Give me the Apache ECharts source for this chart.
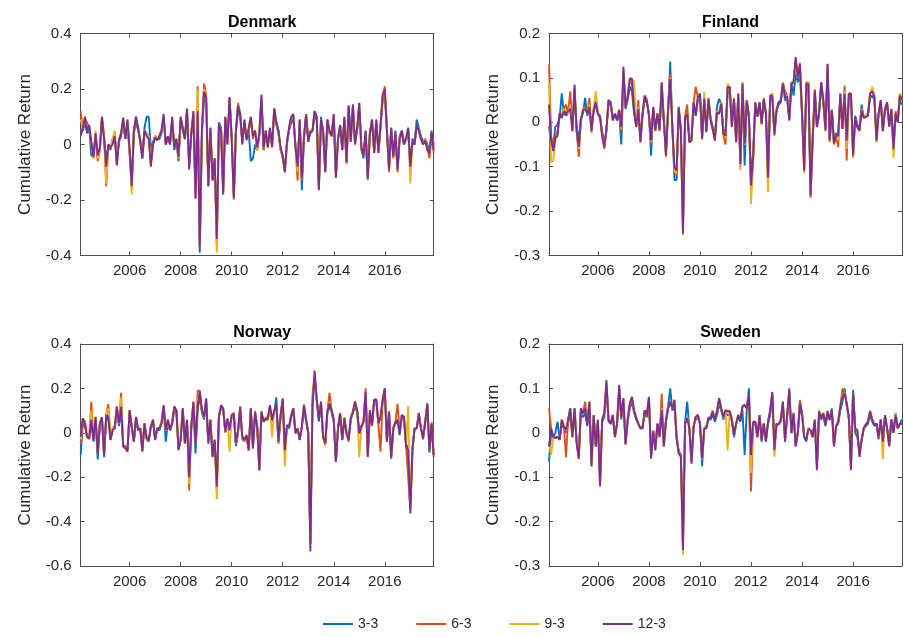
<!DOCTYPE html>
<html><head><meta charset="utf-8">
<script src="https://cdn.jsdelivr.net/npm/echarts@6/dist/echarts.min.js"></script>
<style>html,body{margin:0;padding:0;background:#fff}#c{width:904px;height:637px}</style>
</head><body><div id="c"></div>
<script>
const COUNTRIES = ['Denmark','Finland','Norway','Sweden'];
const SERIES_NAMES = ['3-3','6-3','9-3','12-3'];
const X_TICKS = [2006,2008,2010,2012,2014,2016];
const START_YEAR = 2004, START_MONTH = 2, N_MONTHS = 167;

const D3 = [0.05,0.05,0.08,0.04,0.06,-0.04,-0.04,0.03,-0.05,-0.02,
0.09,0.02,-0.06,0.0,-0.02,0.02,0.03,-0.06,0.01,0.03,
0.08,0.02,0.07,-0.02,-0.13,0.04,0.08,0.05,0.02,-0.04,
0.06,0.1,0.1,-0.02,0.01,0.03,0.02,0.02,0.04,0.09,
0.0,0.02,0.01,0.09,-0.02,0.01,-0.06,0.09,0.05,0.02,
0.12,-0.07,0.04,0.1,-0.17,0.13,-0.39,0.04,0.17,0.15,
-0.13,0.05,-0.12,-0.06,-0.33,0.08,0.06,-0.16,0.09,0.01,
0.16,0.03,-0.18,0.05,0.12,0.1,0.01,0.08,0.02,0.05,
-0.06,-0.05,0.0,-0.02,0.03,0.16,-0.02,0.04,0.0,0.05,
0.0,0.12,0.07,0.04,-0.02,-0.05,-0.09,0.0,0.05,0.08,
0.09,0.0,-0.07,0.08,-0.165,0.02,0.1,0.02,0.04,0.05,
0.1,0.09,-0.15,0.1,0.04,-0.09,0.08,0.04,0.04,0.1,
-0.1,0.02,0.06,-0.01,0.09,-0.06,0.14,0.02,0.13,0.01,
0.05,0.13,-0.02,-0.05,0.04,-0.11,0.05,0.08,-0.02,0.08,
-0.02,0.06,0.16,0.18,0.05,-0.08,0.05,-0.04,0.05,-0.08,
0.03,0.05,0.01,0.02,0.05,-0.07,0.02,0.01,0.09,0.06,
0.03,0.01,0.02,0.0,-0.02,0.04,0.0];
const D6 = [0.12,0.05,0.09,0.08,0.06,0.0,-0.05,0.04,-0.06,-0.02,
0.1,0.03,-0.15,0.0,-0.01,0.01,0.04,-0.07,0.02,0.04,
0.09,0.02,0.08,-0.03,-0.16,0.05,0.09,0.06,0.01,-0.05,
0.05,0.04,0.03,-0.07,0.0,0.03,0.02,0.03,0.05,0.1,
0.0,0.03,0.0,0.09,-0.01,0.02,-0.05,0.09,0.06,0.02,
0.12,-0.08,0.04,0.11,-0.19,0.21,-0.37,0.06,0.22,0.18,
-0.15,0.06,-0.13,-0.05,-0.36,0.07,0.05,-0.17,0.1,0.0,
0.17,0.02,-0.19,0.05,0.15,0.11,0.01,0.08,0.02,0.05,
0.09,0.02,0.05,-0.02,0.04,0.17,-0.02,0.05,-0.01,0.06,
-0.01,0.13,0.08,0.05,-0.02,-0.04,-0.1,0.01,0.06,0.1,
0.1,-0.01,-0.13,0.09,-0.13,0.03,0.11,0.01,0.05,0.05,
0.12,0.1,-0.16,0.09,0.05,-0.1,0.09,0.04,0.03,0.1,
-0.12,0.02,0.07,-0.02,0.09,-0.07,0.13,0.01,0.14,0.0,
0.06,0.14,-0.01,-0.03,0.04,-0.12,0.04,0.09,-0.03,0.08,
-0.03,0.07,0.17,0.21,0.05,-0.1,0.06,-0.05,0.04,-0.1,
0.02,0.04,0.0,0.02,0.06,-0.09,0.01,0.0,0.07,0.05,
0.02,0.0,0.02,-0.01,-0.05,0.03,-0.03];
const D9 = [0.09,0.06,0.1,0.06,0.07,0.01,-0.05,0.05,-0.05,-0.02,
0.1,0.03,-0.14,0.0,-0.01,0.02,0.05,-0.07,0.02,0.04,
0.1,0.02,0.09,-0.03,-0.18,0.05,0.1,0.06,0.01,-0.05,
0.05,0.04,0.03,-0.07,0.0,0.03,0.02,0.03,0.05,0.1,
0.0,0.03,0.0,0.1,-0.01,0.02,-0.05,0.1,0.06,0.02,
0.12,-0.08,0.04,0.12,-0.19,0.2,-0.37,0.05,0.2,0.17,
-0.14,0.06,-0.13,-0.05,-0.39,0.07,0.05,-0.18,0.1,0.0,
0.16,0.02,-0.2,0.05,0.14,0.12,0.0,0.09,0.02,0.06,
0.1,0.03,0.05,-0.02,0.04,0.17,-0.01,0.05,-0.01,0.06,
-0.01,0.13,0.08,0.05,-0.02,-0.04,-0.1,0.01,0.06,0.1,
0.11,-0.01,-0.1,0.09,-0.12,0.03,0.11,0.01,0.05,0.05,
0.12,0.1,-0.16,0.09,0.05,-0.1,0.09,0.05,0.03,0.11,
-0.12,0.02,0.07,-0.02,0.1,-0.07,0.13,0.01,0.14,0.0,
0.06,0.15,-0.01,-0.04,0.05,-0.13,0.04,0.09,-0.03,0.09,
-0.03,0.07,0.18,0.2,0.05,-0.09,0.06,-0.05,0.04,-0.09,
0.02,0.05,0.0,0.02,0.06,-0.14,0.01,0.0,0.07,0.05,
0.02,0.0,0.02,-0.02,-0.03,0.04,-0.01];
const D12 = [0.03,0.06,0.1,0.05,0.07,0.01,-0.045,0.04,-0.04,-0.01,
0.1,0.02,-0.08,0.0,-0.01,0.0,0.03,-0.075,0.015,0.04,
0.095,0.02,0.09,-0.02,-0.15,0.05,0.1,0.06,0.01,-0.05,
0.05,0.03,0.02,-0.08,0.0,0.025,0.015,0.03,0.05,0.11,
0.0,0.03,0.0,0.1,-0.01,0.02,-0.045,0.1,0.06,0.02,
0.13,-0.09,0.04,0.12,-0.195,0.12,-0.37,0.05,0.19,0.17,
-0.15,0.06,-0.13,-0.05,-0.34,0.07,0.05,-0.18,0.1,0.0,
0.17,0.02,-0.195,0.05,0.14,0.11,0.0,0.09,0.015,0.06,
0.1,0.03,0.05,-0.01,0.04,0.18,-0.01,0.05,-0.01,0.06,
-0.01,0.13,0.08,0.05,-0.01,-0.04,-0.1,0.01,0.06,0.1,
0.11,-0.01,-0.08,0.09,-0.12,0.03,0.11,0.01,0.045,0.05,
0.12,0.1,-0.165,0.09,0.05,-0.1,0.09,0.05,0.03,0.11,
-0.12,0.02,0.07,-0.02,0.1,-0.065,0.14,0.01,0.145,0.0,
0.06,0.15,-0.01,-0.04,0.05,-0.125,0.04,0.09,-0.03,0.09,
-0.03,0.07,0.18,0.2,0.05,-0.09,0.06,-0.045,0.04,-0.09,
0.02,0.05,0.0,0.02,0.06,-0.08,0.01,0.0,0.07,0.05,
0.02,0.0,0.015,-0.02,-0.03,0.05,-0.02];

const F3 = [-0.01,-0.05,-0.05,-0.01,-0.005,0.01,0.065,0.02,0.015,0.02,
0.05,-0.01,0.06,-0.01,-0.04,0.01,0.02,0.055,0.015,0.03,
-0.01,0.025,0.04,0.02,0.01,-0.02,-0.05,-0.015,0.045,0.04,
0.01,0.02,0.005,0.02,-0.05,0.1,0.03,0.05,0.08,0.07,
0.02,-0.005,0.025,-0.035,0.02,0.05,0.045,0.02,-0.075,0.03,
-0.015,0.02,-0.01,0.07,0.005,-0.06,0.03,0.137,-0.01,-0.13,
-0.13,0.03,-0.015,-0.22,0.01,0.02,-0.035,-0.035,0.04,0.015,
0.05,0.055,-0.03,0.045,-0.015,0.045,0.01,-0.01,-0.03,0.035,
0.053,0.04,-0.02,-0.02,0.065,0.07,-0.005,0.045,-0.035,0.055,
-0.08,0.075,-0.097,0.04,0.015,-0.12,-0.07,0.04,0.015,0.04,
0.0,0.045,0.02,-0.1,0.05,0.055,-0.02,0.025,0.04,0.045,
0.087,0.05,0.05,0.01,0.09,0.06,0.11,0.09,0.11,0.02,
-0.09,0.075,0.075,-0.14,-0.03,0.06,-0.01,0.02,0.08,0.045,
-0.015,0.11,-0.035,0.03,-0.04,-0.025,-0.025,0.055,-0.01,0.055,
-0.035,0.055,0.055,-0.06,0.015,-0.005,-0.015,0.04,0.01,0.015,
0.015,0.055,0.06,0.05,-0.03,0.02,0.045,-0.015,0.025,0.04,
-0.005,0.025,-0.05,0.02,0.005,0.05,0.04];
const F6 = [0.13,-0.03,-0.06,-0.03,-0.02,0.02,0.015,0.03,0.04,0.02,
0.07,-0.015,0.075,-0.02,-0.078,0.005,0.03,0.035,0.02,0.055,
-0.02,0.03,0.05,0.02,0.015,-0.03,-0.06,-0.02,0.05,0.045,
0.005,0.02,0.005,0.03,-0.02,0.11,0.035,0.06,0.09,0.09,
0.03,-0.01,0.05,-0.045,0.02,0.06,0.05,0.015,-0.05,0.035,
-0.02,0.02,-0.02,0.085,0.005,-0.075,0.03,0.11,-0.01,-0.11,
-0.12,0.035,-0.02,-0.24,0.015,0.04,-0.045,-0.04,0.045,0.08,
0.055,0.065,-0.035,0.055,-0.02,0.055,0.005,-0.015,-0.04,0.025,
0.02,0.045,-0.03,-0.05,0.08,0.08,-0.01,0.055,-0.045,0.065,
-0.1,0.09,-0.05,0.05,0.015,-0.15,-0.08,0.045,0.015,0.045,
-0.005,0.055,0.02,-0.14,0.06,0.065,-0.03,0.03,0.045,0.05,
0.09,0.07,0.06,0.005,0.09,0.09,0.14,0.1,0.13,0.02,
-0.11,0.09,0.09,-0.17,-0.04,0.075,-0.01,0.02,0.09,0.05,
-0.02,0.13,-0.045,0.03,-0.05,-0.03,-0.056,0.065,-0.015,0.083,
-0.086,0.065,0.065,-0.08,0.01,-0.01,-0.02,0.03,0.01,0.015,
0.02,0.065,0.075,0.06,-0.045,0.02,0.05,-0.02,0.03,0.045,
-0.01,0.03,-0.065,0.025,0.0,0.065,0.05];
const F9 = [0.09,-0.09,-0.085,-0.04,-0.03,0.015,0.01,0.03,0.025,0.02,
0.04,-0.02,0.08,-0.02,-0.06,0.005,0.03,0.03,0.02,0.04,
-0.025,0.03,0.07,0.02,0.01,-0.03,-0.055,-0.02,0.05,0.045,
0.005,0.02,0.005,0.03,-0.015,0.12,0.035,0.06,0.1,0.095,
0.094,-0.01,0.035,-0.045,0.02,0.06,0.05,0.015,-0.045,0.035,
-0.02,0.02,-0.02,0.09,0.005,-0.08,0.03,0.1,-0.01,-0.11,
-0.115,0.035,-0.02,-0.255,0.015,0.02,-0.045,-0.04,0.045,0.02,
0.06,0.065,-0.04,0.068,-0.02,0.055,0.005,-0.015,-0.04,0.025,
0.02,0.045,-0.025,-0.035,0.087,0.08,-0.01,0.055,-0.045,0.065,
-0.108,0.09,-0.05,0.05,0.015,-0.184,-0.09,0.045,0.015,0.045,
-0.005,0.055,0.02,-0.157,0.06,0.065,-0.025,0.03,0.045,0.05,
0.09,0.06,0.06,0.005,0.09,0.09,0.14,0.1,0.135,0.02,
-0.115,0.09,0.09,-0.16,-0.045,0.075,-0.01,0.02,0.09,0.05,
-0.02,0.125,-0.045,0.03,-0.05,-0.03,-0.04,0.065,-0.015,0.07,
-0.06,0.065,0.065,-0.08,0.01,-0.01,-0.02,0.03,0.01,0.015,
0.015,0.065,0.08,0.06,-0.045,0.02,0.05,-0.02,0.03,0.045,
-0.01,0.03,-0.08,0.02,0.0,0.065,0.05];
const F12 = [0.04,-0.04,-0.065,-0.035,-0.03,0.02,0.01,0.025,0.02,0.025,
0.03,-0.02,0.085,-0.02,-0.055,0.005,0.027,0.03,0.02,0.035,
-0.02,0.027,0.045,0.019,0.012,-0.03,-0.055,-0.018,0.05,0.045,
0.004,0.019,0.004,0.027,-0.011,0.125,0.034,0.057,0.098,0.098,
0.027,-0.011,0.03,-0.045,0.019,0.06,0.049,0.015,-0.041,0.034,
-0.018,0.019,-0.018,0.09,0.004,-0.075,0.027,0.098,-0.011,-0.101,
-0.109,0.034,-0.018,-0.251,0.012,0.019,-0.045,-0.041,0.045,0.015,
0.057,0.064,-0.037,0.053,-0.022,0.053,0.004,-0.015,-0.041,0.022,
0.019,0.042,-0.026,-0.03,0.079,0.079,-0.011,0.053,-0.045,0.064,
-0.094,0.087,-0.048,0.049,0.015,-0.142,-0.08,0.045,0.012,0.045,
-0.003,0.053,0.019,-0.124,0.06,0.06,-0.026,0.027,0.045,0.049,
0.087,0.057,0.057,0.004,0.087,0.09,0.147,0.101,0.132,0.019,
-0.109,0.087,0.087,-0.165,-0.041,0.072,-0.011,0.019,0.09,0.049,
-0.018,0.132,-0.041,0.027,-0.048,-0.03,-0.03,0.064,-0.015,0.064,
-0.041,0.064,0.064,-0.075,0.012,-0.011,-0.018,0.027,0.01,0.012,
0.015,0.064,0.07,0.057,-0.041,0.02,0.05,-0.02,0.03,0.045,
-0.01,0.03,-0.06,0.02,0.0,0.06,0.05];

const N3 = [-0.1,0.04,0.03,-0.02,-0.03,0.05,-0.04,0.06,-0.12,0.03,
0.06,-0.11,0.07,0.06,-0.03,0.01,0.02,0.1,0.03,0.1,
-0.06,-0.06,-0.08,0.09,0.02,-0.04,0.06,0.01,0.02,-0.07,
0.04,-0.03,-0.04,0.03,0.05,-0.03,0.02,0.01,0.04,0.11,
-0.04,0.05,0.01,0.04,0.1,0.09,-0.07,-0.03,0.1,-0.05,
0.05,-0.18,0.02,0.12,-0.093,0.1,0.17,0.09,0.06,0.14,
-0.05,0.04,-0.1,-0.04,-0.22,0.08,0.11,0.1,0.01,0.05,
0.02,0.07,0.08,-0.06,0.0,0.1,-0.03,-0.04,-0.02,-0.07,
0.1,-0.06,0.08,0.03,-0.15,0.09,0.05,0.06,0.06,0.11,
0.06,0.09,0.16,-0.05,0.07,0.14,-0.07,0.03,0.02,0.07,
0.1,0.0,0.02,-0.03,0.03,0.11,0.05,0.0,-0.5,0.12,
0.25,0.14,0.05,0.13,-0.02,-0.05,0.09,0.12,0.09,0.05,
-0.13,0.02,0.08,-0.03,0.06,0.0,-0.03,0.06,0.09,0.12,
0.09,0.0,0.03,0.05,0.17,-0.1,0.09,0.04,0.14,0.14,
0.04,0.07,0.14,0.18,-0.04,0.09,-0.1,0.02,0.04,0.05,
-0.01,0.07,0.07,-0.05,-0.07,-0.32,-0.07,0.02,0.02,0.08,
0.02,-0.02,0.04,0.12,-0.09,0.04,-0.1];
const N6 = [-0.05,0.06,0.05,-0.02,-0.02,0.14,-0.03,0.07,-0.09,0.04,
0.07,-0.09,0.08,0.13,-0.03,0.02,0.03,0.12,0.04,0.18,
-0.06,-0.06,-0.08,0.1,0.03,-0.04,0.07,0.02,0.02,-0.08,
0.04,-0.02,-0.03,0.03,0.06,-0.03,0.02,0.02,0.05,0.12,
0.01,0.06,0.01,0.05,0.12,0.1,-0.07,-0.03,0.11,-0.05,
0.06,-0.26,0.03,0.14,-0.05,0.19,0.19,0.1,0.07,0.15,
-0.04,0.06,-0.11,-0.03,-0.26,0.07,0.12,0.11,0.0,0.06,
0.01,0.08,0.09,-0.05,0.01,0.11,-0.02,-0.03,-0.01,-0.08,
0.11,-0.07,0.09,0.03,-0.17,0.09,0.05,0.06,0.07,0.12,
0.05,0.1,0.12,-0.04,0.08,0.15,-0.09,0.03,0.03,0.08,
0.11,0.0,0.02,-0.03,0.03,0.12,0.06,0.0,-0.5,0.15,
0.26,0.15,0.06,0.14,-0.02,-0.05,0.1,0.18,0.1,0.06,
-0.13,0.02,0.09,-0.03,0.07,0.0,-0.04,0.07,0.09,0.14,
0.1,0.0,0.03,0.05,0.2,-0.11,0.1,0.03,0.15,0.15,
0.04,-0.085,0.15,0.2,-0.04,0.09,-0.11,0.02,0.05,0.13,
0.0,0.08,0.07,-0.06,-0.2,-0.35,-0.08,0.02,0.02,0.09,
0.02,-0.03,0.05,0.13,-0.08,0.04,-0.1];
const N9 = [-0.03,0.065,0.05,-0.02,-0.03,0.1,-0.03,0.07,-0.09,0.04,
0.07,-0.1,0.08,0.11,-0.03,0.02,0.02,0.12,0.04,0.16,
-0.06,-0.07,-0.08,0.1,0.03,-0.04,0.07,0.01,0.02,-0.08,
0.04,-0.03,-0.03,0.03,0.06,-0.03,0.02,0.02,0.05,0.12,
0.01,0.06,0.01,0.04,0.11,0.1,-0.08,-0.03,0.11,-0.05,
0.06,-0.23,0.03,0.14,-0.05,0.15,0.18,0.1,0.07,0.15,
-0.04,0.06,-0.11,-0.04,-0.3,0.07,0.12,0.11,0.0,0.06,
-0.085,0.08,0.09,-0.05,0.01,0.12,-0.02,-0.04,-0.01,-0.08,
0.11,-0.07,0.1,0.03,-0.17,0.1,0.05,0.07,0.07,0.12,
-0.02,0.1,0.12,-0.05,0.08,0.15,-0.15,0.03,0.03,0.08,
0.11,0.0,0.02,-0.03,0.03,0.13,0.06,0.0,-0.5,0.18,
0.26,0.15,0.06,0.14,-0.02,-0.06,0.1,0.14,0.1,0.06,
-0.12,0.02,0.09,-0.03,0.06,0.0,-0.03,0.07,0.1,0.14,
0.1,-0.11,0.02,0.05,0.18,-0.1,0.1,0.04,0.15,0.15,
0.04,0.07,0.15,0.2,-0.04,0.1,-0.12,0.02,0.05,0.06,
0.0,0.08,0.07,-0.06,0.12,-0.34,-0.08,0.02,0.02,0.09,
0.02,-0.02,0.05,0.13,-0.07,0.05,-0.1];
const N12 = [-0.018,0.065,0.043,-0.018,-0.025,0.058,-0.033,0.072,-0.093,0.043,
0.07,-0.1,0.08,0.072,-0.033,0.012,0.02,0.117,0.043,0.117,
-0.063,-0.07,-0.085,0.102,0.027,-0.04,0.072,0.012,0.02,-0.085,
0.043,-0.025,-0.033,0.027,0.058,-0.033,0.02,0.02,0.043,0.125,
0.012,0.058,0.012,0.043,0.117,0.102,-0.078,-0.033,0.11,-0.048,
0.058,-0.2,0.027,0.14,-0.05,0.117,0.185,0.102,0.072,0.155,
-0.04,0.058,-0.108,-0.033,-0.243,0.072,0.125,0.11,0.005,0.065,
0.012,0.08,0.087,-0.048,0.012,0.117,-0.018,-0.033,-0.01,-0.078,
0.11,-0.07,0.095,0.027,-0.168,0.095,0.05,0.065,0.065,0.125,
0.058,0.102,0.125,-0.04,0.08,0.155,-0.078,0.035,0.027,0.08,
0.11,-0.003,0.02,-0.033,0.027,0.125,0.058,0.0,-0.535,0.13,
0.28,0.15,0.058,0.14,-0.018,-0.048,0.095,0.133,0.102,0.058,
-0.13,0.02,0.087,-0.033,0.065,-0.003,-0.033,0.065,0.095,0.14,
0.102,-0.003,0.027,0.05,0.185,-0.108,0.102,0.035,0.148,0.15,
0.043,0.072,0.148,0.2,-0.04,0.095,-0.115,0.02,0.05,0.058,
-0.003,0.08,0.072,-0.063,-0.078,-0.363,-0.078,0.02,0.02,0.087,
0.02,-0.025,0.05,0.133,-0.078,0.043,-0.108];

const S3 = [-0.065,0.0,-0.01,0.0,0.025,-0.015,0.02,0.01,0.0,0.02,
0.045,-0.01,0.045,-0.02,-0.045,0.045,0.035,0.045,0.015,0.055,
-0.06,0.035,-0.025,0.025,-0.1,0.025,0.035,0.1,0.025,0.02,
0.035,-0.005,0.02,0.09,0.03,0.065,-0.02,0.025,0.055,0.07,
0.045,0.03,0.02,0.01,0.015,0.045,0.035,0.07,-0.045,0.005,
-0.03,0.02,-0.005,0.045,-0.02,0.03,0.06,0.1,0.05,0.065,
-0.01,-0.04,-0.05,-0.22,0.025,0.07,0.01,-0.055,0.015,0.03,
0.035,0.02,-0.076,0.01,0.015,0.03,0.03,0.04,0.025,0.04,
0.065,0.05,0.03,0.045,0.04,0.04,0.025,-0.01,0.02,0.035,
0.025,0.05,-0.05,0.05,0.1,-0.04,0.02,0.02,-0.01,0.035,
-0.02,0.02,-0.015,0.02,0.04,0.08,-0.03,0.02,0.02,0.025,
0.06,-0.015,0.035,0.085,0.0,0.04,-0.025,0.0,0.055,0.04,
-0.01,-0.02,0.01,0.005,-0.01,0.025,-0.07,0.045,0.03,0.04,
0.015,0.04,0.03,0.055,-0.025,0.015,0.02,0.05,0.07,0.1,
0.06,0.03,-0.07,0.097,0.0,-0.01,-0.04,-0.02,0.01,0.015,
0.02,0.04,0.025,0.015,0.02,-0.015,0.025,-0.02,0.035,0.01,
-0.025,0.03,0.005,0.045,0.01,0.02,0.03];
const S6 = [0.055,0.01,-0.01,-0.01,-0.01,-0.015,0.03,0.015,-0.055,0.03,
0.055,-0.01,0.055,-0.02,-0.055,0.055,0.045,0.07,0.02,0.07,
-0.07,0.04,-0.03,0.03,-0.115,0.03,0.045,0.11,0.03,0.02,
0.04,-0.01,0.02,0.1,0.035,0.075,-0.025,0.03,0.065,0.08,
0.05,0.035,0.02,0.01,0.01,0.05,0.04,0.08,-0.055,0.005,
-0.035,0.02,-0.01,0.088,-0.03,0.025,0.055,0.07,0.055,0.07,
-0.01,-0.045,-0.05,-0.26,0.02,0.035,0.01,-0.065,0.015,0.035,
0.04,0.02,-0.055,0.01,0.01,0.035,0.035,0.05,0.03,0.05,
0.075,0.055,0.035,0.05,0.05,0.05,0.03,-0.005,0.02,0.04,
0.03,0.06,0.06,0.055,0.085,-0.132,0.02,0.025,-0.01,0.04,
-0.015,0.02,-0.02,0.025,0.05,0.09,-0.035,0.02,0.02,0.03,
0.07,-0.02,0.04,0.095,0.0,0.045,-0.03,0.0,0.074,0.045,
-0.01,-0.015,0.01,0.005,-0.01,0.03,-0.08,0.05,0.035,0.045,
0.02,0.05,0.03,0.05,-0.03,0.015,0.025,0.06,0.1,0.09,
0.065,0.035,-0.08,0.09,0.01,0.005,-0.05,-0.015,0.01,0.02,
0.025,0.05,0.03,0.02,0.02,-0.01,0.03,-0.02,0.04,0.01,
-0.03,0.03,0.0,0.04,0.01,0.02,0.02];
const S9 = [-0.02,-0.05,-0.01,-0.01,-0.01,-0.015,0.03,0.015,0.005,0.03,
0.055,-0.01,0.055,-0.02,-0.06,0.055,0.045,0.055,0.02,0.07,
-0.075,0.04,-0.03,0.03,-0.12,0.03,0.045,0.115,0.03,0.02,
0.04,-0.01,0.02,0.105,0.035,0.075,-0.025,0.03,0.065,0.08,
0.05,0.035,0.02,0.01,0.01,0.05,0.04,0.08,-0.055,0.005,
-0.04,0.02,-0.01,0.055,-0.03,0.025,0.055,0.07,0.055,0.075,
-0.01,-0.045,-0.055,-0.275,0.02,0.035,0.01,-0.07,0.015,0.035,
0.04,0.02,-0.06,0.01,0.01,0.035,0.035,0.05,0.03,0.05,
0.075,0.055,0.035,0.05,-0.04,0.05,0.03,-0.005,0.02,0.04,
0.03,0.06,0.06,0.055,0.085,-0.09,0.02,0.025,-0.01,0.04,
-0.015,0.02,-0.02,0.025,0.05,0.09,-0.054,0.02,0.02,0.03,
0.07,-0.02,0.04,0.095,0.0,0.045,-0.03,0.0,0.065,0.045,
-0.01,-0.015,0.01,0.005,-0.01,0.03,-0.08,0.05,0.035,0.045,
0.02,0.05,0.03,0.05,-0.03,0.015,0.025,0.06,0.085,0.09,
0.065,0.035,-0.08,0.09,0.01,0.005,-0.055,-0.015,0.01,0.02,
0.025,0.05,0.03,0.02,0.02,-0.01,0.03,-0.06,0.04,0.01,
-0.03,0.03,0.0,0.045,0.01,0.02,0.02];
const S12 = [-0.031,0.01,-0.009,-0.012,-0.009,-0.016,0.029,0.014,0.006,0.029,
0.055,-0.009,0.055,-0.024,-0.058,0.055,0.044,0.055,0.018,0.07,
-0.076,0.04,-0.031,0.029,-0.121,0.029,0.044,0.119,0.029,0.021,
0.04,-0.009,0.021,0.108,0.036,0.078,-0.027,0.029,0.066,0.081,
0.051,0.033,0.021,0.01,0.01,0.051,0.04,0.081,-0.058,0.003,
-0.039,0.021,-0.009,0.051,-0.031,0.025,0.055,0.07,0.055,0.074,
-0.012,-0.046,-0.054,-0.264,0.021,0.033,0.01,-0.069,0.014,0.036,
0.04,0.021,-0.058,0.01,0.01,0.033,0.033,0.048,0.029,0.048,
0.078,0.055,0.036,0.051,0.048,0.048,0.029,-0.005,0.021,0.04,
0.029,0.059,0.063,0.055,0.085,-0.05,0.025,0.025,-0.009,0.04,
-0.016,0.021,-0.02,0.025,0.05,0.092,-0.039,0.021,0.018,0.029,
0.07,-0.02,0.04,0.1,-0.001,0.044,-0.031,-0.001,0.066,0.044,
-0.009,-0.016,0.01,0.006,-0.009,0.029,-0.084,0.048,0.033,0.044,
0.018,0.048,0.029,0.051,-0.031,0.014,0.025,0.059,0.081,0.089,
0.066,0.036,-0.084,0.089,0.01,0.006,-0.054,-0.016,0.01,0.018,
0.025,0.048,0.029,0.018,0.021,-0.01,0.03,-0.02,0.04,0.01,
-0.03,0.03,0.0,0.04,0.01,0.02,0.02];

const DATA = [[D3,D6,D9,D12],[F3,F6,F9,F12],[N3,N6,N9,N12],[S3,S6,S9,S12]];
const Y_MIN = [-0.4,-0.3,-0.6,-0.3];
const Y_MAX = [0.4,0.2,0.4,0.2];
const Y_STEP = [0.2,0.1,0.2,0.1];

// Layout (pixels)
const COLORS = ['#0072BD','#D95319','#EDB120','#7E2F8E'];
const GRIDS = [{left:80.7,top:33.5},{left:549,top:33.5},{left:80.7,top:344},{left:549,top:344}];
const GW = 353, GH = 222;
const FONT = 'Liberation Sans, Arial, Helvetica, sans-serif';
const AX = '#4d4d4d', TXT = '#262626';

const XS = [];
for (let i = 0; i < N_MONTHS; i++) XS.push(START_YEAR + (START_MONTH - 1 + i) / 12);

const chart = echarts.init(document.getElementById('c'), null, {renderer:'canvas'});
const grid = [], xAxis = [], yAxis = [], series = [], title = [];
GRIDS.forEach((g, k) => {
  grid.push({left:g.left, top:g.top, width:GW, height:GH, containLabel:false});
  title.push({text:COUNTRIES[k], left:g.left + GW/2, top:g.top - 24, textAlign:'center',
    textStyle:{fontFamily:FONT, fontWeight:'bold', fontSize:16, color:'#000'}});
  const xb = {gridIndex:k, type:'value', min:XS[0], max:XS[XS.length-1],
    axisLine:{show:true, onZero:false, lineStyle:{color:AX, width:1}},
    axisTick:{show:true, inside:true, length:4, customValues:X_TICKS, lineStyle:{color:AX}},
    splitLine:{show:false}};
  xAxis.push(Object.assign({}, xb, {position:'bottom',
    axisLabel:{show:true, customValues:X_TICKS, formatter:v => String(Math.round(v)), fontFamily:FONT, fontSize:15, color:TXT, margin:8}}));
  xAxis.push(Object.assign({}, xb, {position:'top', axisLabel:{show:false}}));
  const yb = {gridIndex:k, type:'value', min:Y_MIN[k], max:Y_MAX[k], interval:Y_STEP[k],
    axisLine:{show:true, onZero:false, lineStyle:{color:AX, width:1}},
    axisTick:{show:true, inside:true, length:4, lineStyle:{color:AX}},
    splitLine:{show:false}};
  yAxis.push(Object.assign({}, yb, {position:'left',
    name:'Cumulative Return', nameLocation:'middle', nameRotate:90, nameGap:47,
    nameTextStyle:{fontFamily:FONT, fontSize:17, color:TXT},
    axisLabel:{show:true, formatter:v => String(parseFloat(v.toFixed(2))), fontFamily:FONT, fontSize:15, color:TXT, margin:9}}));
  yAxis.push(Object.assign({}, yb, {position:'right', axisLabel:{show:false}}));
  DATA[k].forEach((arr, s) => {
    series.push({type:'line', name:SERIES_NAMES[s], xAxisIndex:2*k, yAxisIndex:2*k,
      data:arr.map((v, i) => [XS[i], v]), showSymbol:false, symbol:'none',
      lineStyle:{width:1.9, color:COLORS[s]}, itemStyle:{color:COLORS[s]},
      z:2+s, silent:true});
  });
});

chart.setOption({
  animation:false,
  backgroundColor:'#fff',
  color:COLORS,
  title, grid, xAxis, yAxis, series,
  legend:{data:SERIES_NAMES, top:612, left:318, orient:'horizontal', icon:'rect',
    itemWidth:30, itemHeight:2, itemGap:38,
    textStyle:{fontFamily:FONT, fontSize:14, color:TXT}}
});
</script>
</body></html>
